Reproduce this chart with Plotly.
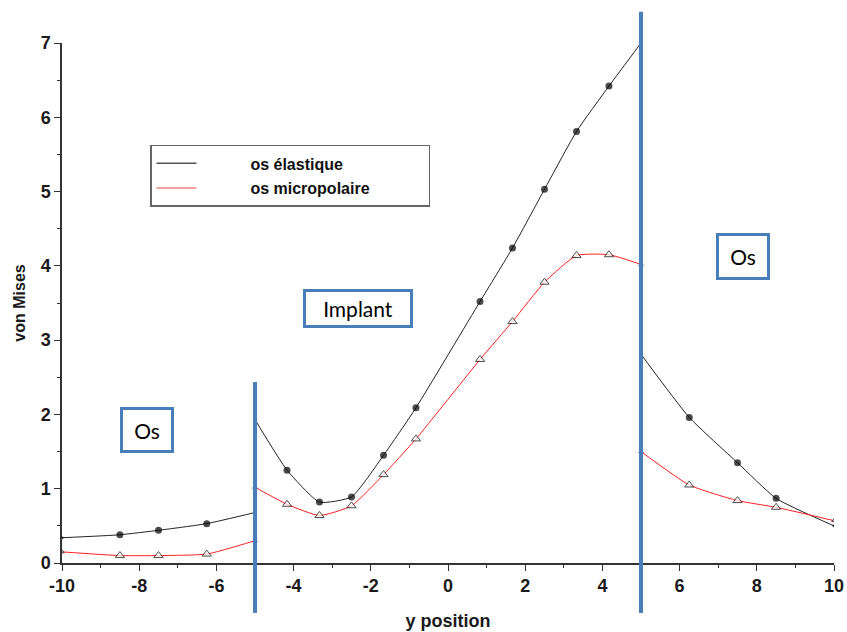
import plotly.graph_objects as go

# y position of the sample points, three zones separated by the implant borders
x_os_left = [-10, -8.5, -7.5, -6.25, -5]
x_implant = [-5, -4.17, -3.33, -2.5, -1.67, -0.83, 0.83, 1.67, 2.5, 3.33, 4.17, 5]
x_os_right = [5, 6.25, 7.5, 8.5, 10]

# von Mises stress, os elastique
elas_left = [0.34, 0.38, 0.44, 0.53, 0.68]
elas_implant = [1.93, 1.25, 0.82, 0.89, 1.45, 2.09, 3.52, 4.24, 5.03, 5.81, 6.42, 7.0]
elas_right = [2.81, 1.96, 1.35, 0.87, 0.50]

# von Mises stress, os micropolaire
micro_left = [0.15, 0.10, 0.10, 0.12, 0.30]
micro_implant = [1.02, 0.79, 0.64, 0.77, 1.19, 1.67, 2.74, 3.25, 3.78, 4.14, 4.15, 4.02]
micro_right = [1.50, 1.05, 0.84, 0.75, 0.57]

x_ticks = [-10, -8, -6, -4, -2, 0, 2, 4, 6, 8, 10]
x_ticklabels = ['-10', '-8', '-6', '-4', '-2', '0', '2', '4', '6', '8', '10']

xs = x_os_left + [None] + x_implant + [None] + x_os_right
elas = elas_left + [None] + elas_implant + [None] + elas_right
micro = micro_left + [None] + micro_implant + [None] + micro_right

# small markers at the zone edges (mostly hidden behind the blue lines)
sizes_c = [3 if (v in (-10, -5, 5, 10)) else 7 for v in xs]
sizes_t = [4 if (v in (-10, -5, 5, 10)) else 8 for v in xs]

fig = go.Figure()
fig.add_trace(go.Scatter(x=xs, y=elas, mode='lines+markers', showlegend=False,
                         line=dict(color='#222222', width=1, shape='spline', smoothing=0.5),
                         marker=dict(symbol='circle', size=sizes_c, color='black',
                                     line=dict(width=0))))
fig.add_trace(go.Scatter(x=xs, y=micro, mode='lines+markers', showlegend=False,
                         line=dict(color='#ff2020', width=1, shape='spline', smoothing=0.5),
                         marker=dict(symbol='triangle-up', size=sizes_t, color='white',
                                     line=dict(color='black', width=1))))

# legend entries (lines only)
pad = '\u00a0' * 11
fig.add_trace(go.Scatter(x=[None], y=[None], mode='lines', name=pad + 'os élastique' + '\u00a0' * 18,
                         legendgroup='a', line=dict(color='#555555', width=1.5)))
fig.add_trace(go.Scatter(x=[None], y=[None], mode='lines', name=pad + 'os micropolaire' + '\u00a0' * 12,
                         legendgroup='b', line=dict(color='#f08080', width=1.5)))

# implant borders
fig.add_shape(type='line', xref='x', yref='paper', x0=-5, x1=-5, y0=-0.096, y1=0.348,
              line=dict(color='#4a7ebb', width=4))
fig.add_shape(type='line', xref='x', yref='paper', x0=5, x1=5, y0=-0.096, y1=1.06,
              line=dict(color='#4a7ebb', width=4))

box_font = dict(family='Lato', size=21, color='black')
fig.add_annotation(x=-7.79, y=1.79, text='Os', showarrow=False, font=box_font,
                   bordercolor='#4a7ebb', borderwidth=3, borderpad=0, width=48, height=40,
                   bgcolor='white')
fig.add_annotation(x=-2.33, y=3.43, text='Implant', showarrow=False, font=box_font,
                   bordercolor='#4a7ebb', borderwidth=3, borderpad=0, width=104, height=33,
                   bgcolor='white')
fig.add_annotation(x=7.65, y=4.12, text='Os', showarrow=False, font=box_font,
                   bordercolor='#4a7ebb', borderwidth=3, borderpad=0, width=48, height=41,
                   bgcolor='white')

tick_font = dict(family='Liberation Sans', size=18, color='#1a1a1a', weight='bold')
fig.update_xaxes(range=[-10, 10], tickvals=x_ticks, ticktext=x_ticklabels, automargin=False,
                 ticks='outside', ticklen=6, tickwidth=1, tickcolor='#333',
                 minor=dict(ticks='outside', ticklen=3, dtick=1, tickcolor='#333'),
                 showline=True, linecolor='#333', linewidth=1.5, showgrid=False, zeroline=False,
                 tickfont=tick_font,
                 title=dict(text='y position', standoff=19,
                            font=dict(family='Liberation Sans', size=18, color='#1a1a1a', weight='bold')))
fig.update_yaxes(range=[0, 7], dtick=1, automargin=False,
                 ticks='outside', ticklen=6, tickwidth=1, tickcolor='#333',
                 minor=dict(ticks='outside', ticklen=3, dtick=0.5, tickcolor='#333'),
                 showline=True, linecolor='#333', linewidth=1.5, showgrid=False, zeroline=False,
                 tickfont=tick_font,
                 title=dict(text='von Mises', standoff=11,
                            font=dict(family='Liberation Sans', size=16, color='#1a1a1a', weight='bold')))

fig.update_layout(width=847, height=632, margin=dict(l=62, r=13, t=43, b=69),
                  plot_bgcolor='white', paper_bgcolor='white',
                  legend=dict(x=0.114, y=0.804, xanchor='left', yanchor='top',
                              bordercolor='#666', borderwidth=1.5, bgcolor='white',
                              tracegroupgap=1, itemwidth=40,
                              font=dict(family='Liberation Sans', size=16, color='#111', weight='bold')))

# drop the default body margin so the figure fills the window exactly
fig.write_html("out.html", config={'displayModeBar': False},
               post_script="document.body.style.margin='0';")
